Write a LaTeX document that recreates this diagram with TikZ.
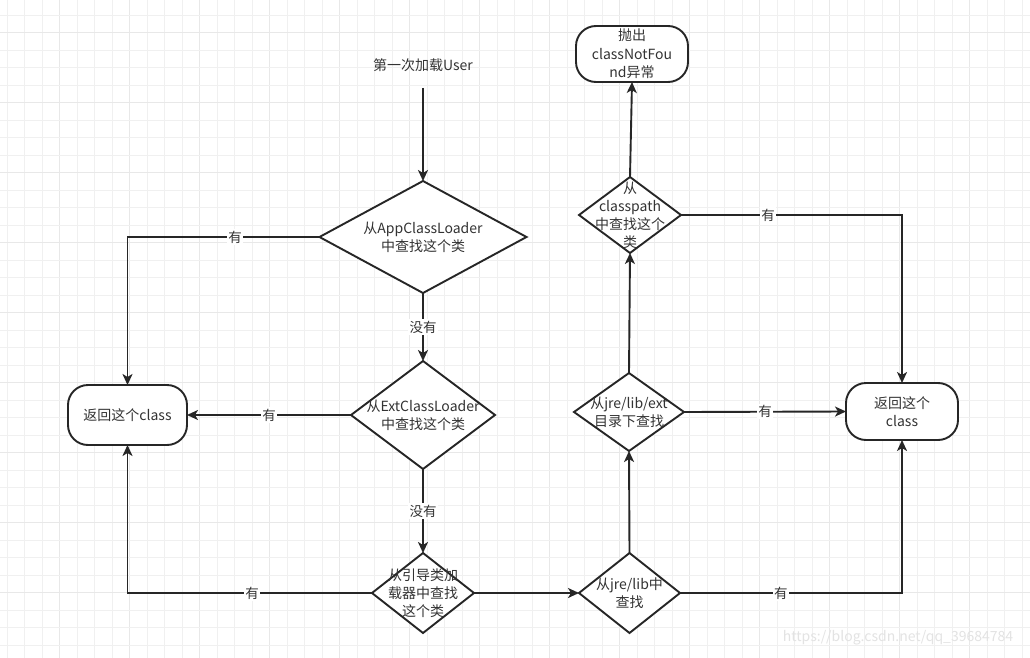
\documentclass[tikz,border=0pt]{standalone}
\usepackage{fontspec}
\setmainfont{Noto Sans CJK SC}
\usetikzlibrary{shapes.geometric,arrows.meta}
\begin{document}
\begin{tikzpicture}[x=1pt,y=-1pt,
  line/.style={draw=black!85, line width=1.9pt},
  arr/.style={line, -{Stealth[length=11pt,width=10pt,inset=3pt]}},
  dia/.style={shape=diamond, draw=black!85, fill=white, line width=1.9pt, inner sep=0pt, outer sep=0pt},
  term/.style={rectangle, rounded corners=20pt, draw=black!85, fill=white, line width=1.9pt, inner sep=0pt, outer sep=0pt, align=center, text=black!80, font=\fontsize{14}{18.5}\selectfont},
  txt/.style={align=center, text=black!80, inner sep=0pt, font=\fontsize{14}{18}\selectfont},
  lbl/.style={fill=white, inner sep=1.5pt, text=black!80, font=\fontsize{13.5}{15}\selectfont},
  gminor/.style={draw=black!6, line width=0.8pt},
  gmajor/.style={draw=black!9, line width=1.1pt}
]
\useasboundingbox (0,0) rectangle (1030,658);
\fill[white] (0,0) rectangle (1030,658);
% grid
\foreach \k in {0,...,58} {
  \pgfmathsetmacro{\gx}{7+17.5*\k}
  \pgfmathtruncatemacro{\mm}{mod(\k,4)}
  \ifnum\mm=3 \draw[gmajor] (\gx,0) -- (\gx,658); \else \draw[gminor] (\gx,0) -- (\gx,658); \fi
}
\foreach \k in {0,...,37} {
  \pgfmathsetmacro{\gy}{15+17.5*\k}
  \pgfmathtruncatemacro{\mm}{mod(\k,4)}
  \ifnum\mm=1 \draw[gmajor] (0,\gy) -- (1030,\gy); \else \draw[gminor] (0,\gy) -- (1030,\gy); \fi
}

% nodes
\node[txt] (start) at (423,65) {第一次加载User};
\coordinate (s0) at (423,88);
\node[dia, minimum width=207pt, minimum height=112pt] (d1) at (423,237) {};
\node[txt] (t1) at (d1) {从AppClassLoader\\中查找这个类};
\node[dia, minimum width=144pt, minimum height=108pt] (d2) at (423,415) {};
\node[txt] (t2) at (d2) {从ExtClassLoader\\中查找这个类};
\node[dia, minimum width=102pt, minimum height=80pt] (d3) at (423,593) {};
\node[txt] (t3) at (d3) {从引导类加\\载器中查找\\这个类};
\node[dia, minimum width=101pt, minimum height=80pt] (d4) at (629.5,593) {};
\node[txt] (t4) at (d4) {从jre/lib中\\查找};
\node[dia, minimum width=110pt, minimum height=78pt] (d5) at (629,412) {};
\node[txt] (t5) at (d5) {从jre/lib/ext\\目录下查找};
\node[dia, minimum width=102pt, minimum height=76pt] (d6) at (630,215) {};
\node[txt] (t6) at (d6) {从\\classpath\\中查找这个\\类};
\node[term, minimum width=112pt, minimum height=56pt] (top) at (632,54) {抛出\\classNotFou\\nd异常};
\node[term, minimum width=119pt, minimum height=60pt] (L) at (127.5,415) {返回这个class};
\node[term, minimum width=112pt, minimum height=57pt] (R) at (902,411.5) {返回这个\\class};

% connectors
\draw[arr] (s0) -- (d1.north);
\draw[arr] (d1.south) -- node[lbl]{没有} (d2.north);
\draw[arr] (d2.south) -- node[lbl]{没有} (d3.north);
\draw[arr] (d1.west) -| node[lbl,pos=0.22]{有} (L.north);
\draw[arr] (d2.west) -- node[lbl]{有} (L.east);
\draw[arr] (d3.west) -| node[lbl,pos=0.245]{有} (L.south);
\draw[arr] (d3.east) -- (d4.west);
\draw[arr] (d4.east) -| node[lbl,pos=0.227]{有} (R.south);
\draw[arr] (d4.north) -- (d5.south);
\draw[arr] (d5.east) -- node[lbl]{有} (R.west);
\draw[arr] (d5.north) -- (d6.south);
\draw[arr] (d6.east) -| node[lbl,pos=0.197]{有} (R.north);
\draw[arr] (d6.north) -- (top.south);

% watermark
\node[text=black!11, inner sep=0pt, font=\fontsize{14}{15}\selectfont] (wm) at (898,638) {https://blog.csdn.net/qq\_39684784};
\end{tikzpicture}
\end{document}
